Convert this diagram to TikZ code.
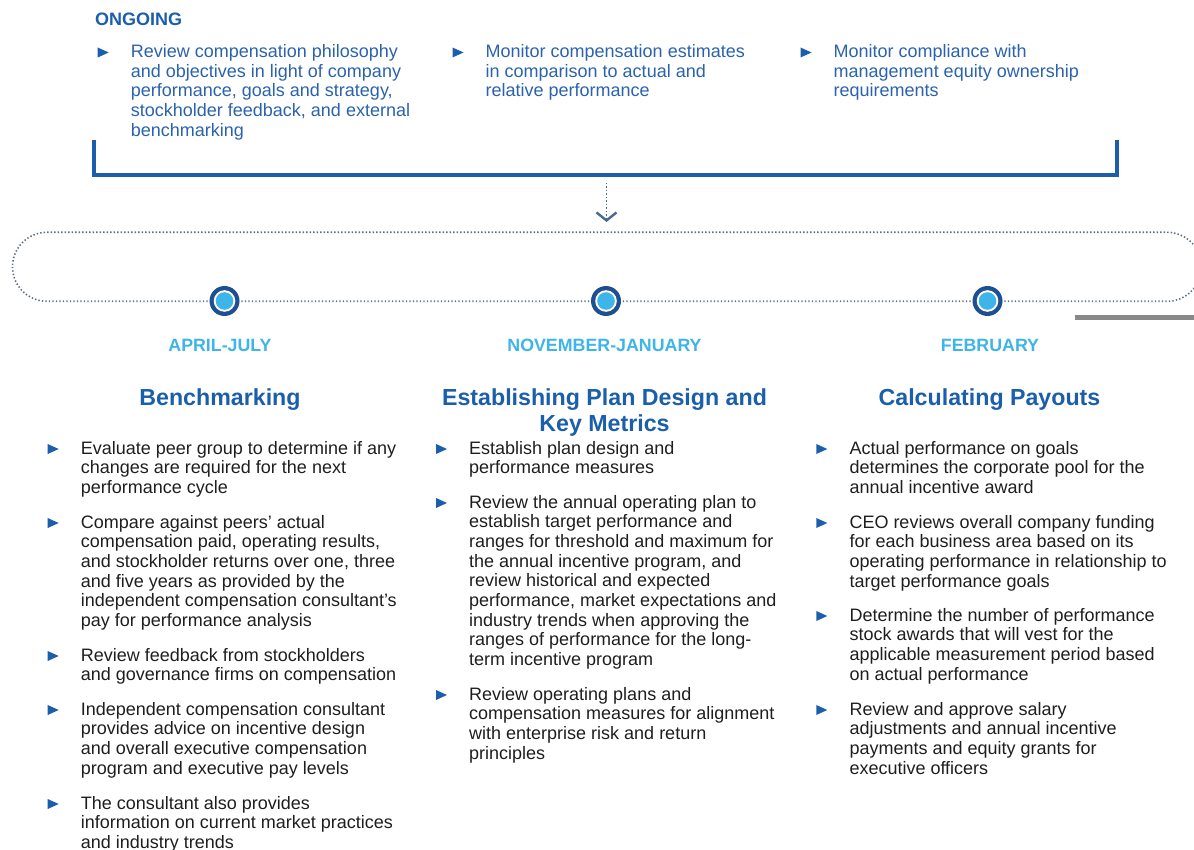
\documentclass[tikz,border=0pt]{standalone}
\usepackage{fontspec}
\setmainfont{Liberation Sans}
\usetikzlibrary{calc,arrows.meta}
\definecolor{hblue}{HTML}{1B5EAB}
\definecolor{oblue}{HTML}{2A62AE}
\definecolor{lblue}{HTML}{3DB5E8}
\definecolor{ringblue}{HTML}{1E4F91}
\definecolor{dotgray}{HTML}{5E6F82}
\definecolor{arrcol}{HTML}{4A6A90}
\definecolor{bodycol}{HTML}{1E1E1E}
\definecolor{barcol}{HTML}{888888}
\tikzset{
  bodytext/.style={inner sep=0pt, text=bodycol, font=\fontsize{18}{19.7}\selectfont},
  ongotext/.style={bodytext, text=oblue},
  heading/.style={inner sep=0pt, align=center, text=hblue, font=\fontsize{23.2}{26.7}\selectfont\bfseries},
  datelabel/.style={inner sep=0pt, text=lblue, font=\fontsize{17.8}{20}\selectfont\bfseries},
  bulletcol/.style={fill=hblue},
  dotline/.style={draw=dotgray, line width=1.6pt, dash pattern=on 1.4pt off 2.1pt},
  bracketline/.style={draw=hblue, line width=3.6pt},
}
\newcommand\mylines[1]{\begin{tabular}[t]{@{}l@{}}#1\end{tabular}}
\newcommand\bulitem[5]{% style, name, x, baseline y, text
  \node[#1, anchor=base west] (#2) at (#3,#4) {\mylines{#5}};
  \fill[bulletcol] ($(#2.base west)+(-33,0)$) -- ++(0,-10) -- ++(11,5) -- cycle;
}
\begin{document}
\begin{tikzpicture}[x=1pt,y=-1pt]
\useasboundingbox (0,0) rectangle (1194,850);

% ONGOING
\node[inner sep=0pt, anchor=base west, text=hblue, font=\fontsize{18}{20}\selectfont\bfseries] (ongoing) at (95,25.5) {ONGOING};
\bulitem{ongotext}{o1}{130.7}{57.5}{Review compensation philosophy\\and objectives in light of company\\performance, goals and strategy,\\stockholder feedback, and external\\benchmarking}
\bulitem{ongotext}{o2}{485.5}{57.5}{Monitor compensation estimates\\in comparison to actual and\\relative performance}
\bulitem{ongotext}{o3}{833.5}{57.5}{Monitor compliance with\\management equity ownership\\requirements}

% bracket
\coordinate (bl) at (94,140);
\coordinate (br) at (1117,140);
\draw[bracketline] (bl) |- (605,175) -| (br);

% dotted arrow
\coordinate (arrtop) at (606.5,183);
\coordinate (arrbot) at (606.5,222);
\draw[dotline, -{Straight Barb[length=8pt,width=20pt,line width=2.4pt]}, arrcol] (arrtop) -- (arrbot);

% dotted loop
\draw[dotline, rounded corners=34.5pt] (12.5,232.3) rectangle (1201.5,301.3);

% gray bar
\coordinate (gb1) at (1074.5,318);
\coordinate (gb2) at (1196,318);
\draw[barcol, line width=5pt] (gb1) -- (gb2);

% milestones
\foreach \n/\x in {m1/224.5, m2/606, m3/987.5}{
  \fill[ringblue] (\x,301) circle (15);
  \fill[white] (\x,301) circle (10.8);
  \fill[lblue] (\x,301) circle (8.8);
  \coordinate (\n) at (\x,301);
}

% dates
\node[datelabel, anchor=base] (d1) at (220,351) {APRIL-JULY};
\node[datelabel, anchor=base] (d2) at (604.5,351) {NOVEMBER-JANUARY};
\node[datelabel, anchor=base] (d3) at (990,351) {FEBRUARY};

% headings
\node[heading, anchor=base] (h1) at (220,405) {Benchmarking};
\node[heading, anchor=base] (h2) at (604.5,431.7) {Establishing Plan Design and\\Key Metrics};
\node[heading, anchor=base] (h3) at (989.5,405) {Calculating Payouts};

% column 1
\bulitem{bodytext}{a1}{80.7}{454}{Evaluate peer group to determine if any\\changes are required for the next\\performance cycle}
\bulitem{bodytext}{a2}{80.7}{528}{Compare against peers’ actual\\compensation paid, operating results,\\and stockholder returns over one, three\\and five years as provided by the\\independent compensation consultant’s\\pay for performance analysis}
\bulitem{bodytext}{a3}{80.7}{661}{Review feedback from stockholders\\and governance firms on compensation}
\bulitem{bodytext}{a4}{80.7}{715}{Independent compensation consultant\\provides advice on incentive design\\and overall executive compensation\\program and executive pay levels}
\bulitem{bodytext}{a5}{80.7}{809}{The consultant also provides\\information on current market practices\\and industry trends}

% column 2
\bulitem{bodytext}{b1}{469}{454}{Establish plan design and\\performance measures}
\bulitem{bodytext}{b2}{469}{508}{Review the annual operating plan to\\establish target performance and\\ranges for threshold and maximum for\\the annual incentive program, and\\review historical and expected\\performance, market expectations and\\industry trends when approving the\\ranges of performance for the long-\\term incentive program}
\bulitem{bodytext}{b3}{469}{700}{Review operating plans and\\compensation measures for alignment\\with enterprise risk and return\\principles}

% column 3
\bulitem{bodytext}{c1}{849.3}{454}{Actual performance on goals\\determines the corporate pool for the\\annual incentive award}
\bulitem{bodytext}{c2}{849.3}{528}{CEO reviews overall company funding\\for each business area based on its\\operating performance in relationship to\\target performance goals}
\bulitem{bodytext}{c3}{849.3}{621}{Determine the number of performance\\stock awards that will vest for the\\applicable measurement period based\\on actual performance}
\bulitem{bodytext}{c4}{849.3}{715}{Review and approve salary\\adjustments and annual incentive\\payments and equity grants for\\executive officers}
\end{tikzpicture}
\end{document}
